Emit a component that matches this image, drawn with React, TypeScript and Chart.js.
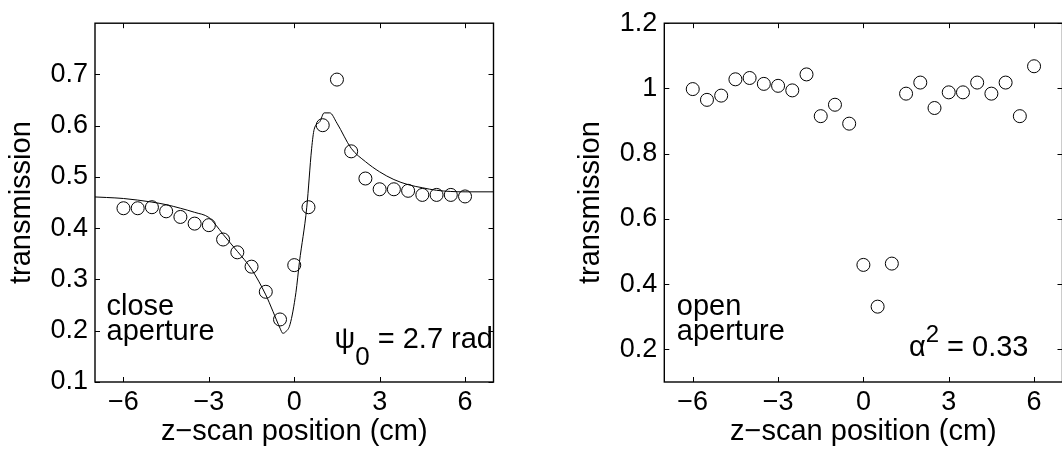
import React, { useEffect, useRef } from 'react';
import { Chart, registerables } from 'chart.js';

Chart.register(...registerables);

// ---------- data ----------
const zPositions = [-6, -5.5, -5, -4.5, -4, -3.5, -3, -2.5, -2, -1.5, -1, -0.5, 0, 0.5, 1, 1.5, 2, 2.5, 3, 3.5, 4, 4.5, 5, 5.5, 6];
const closeAperture = [0.439, 0.439, 0.441, 0.433, 0.422, 0.409, 0.406, 0.378, 0.353, 0.325, 0.276, 0.222, 0.328, 0.441, 0.601, 0.690, 0.550, 0.497, 0.476, 0.476, 0.473, 0.465, 0.465, 0.465, 0.462];
const fitZ = [-7, -6.6, -6, -5, -4.5, -4, -3.5, -3, -2.75, -2.5, -2, -1.5, -1, -0.75, -0.5, -0.4, -0.3, -0.15, 0.06, 0.18, 0.44, 0.61, 0.7, 0.9, 1.05, 1.25, 1.5, 2, 2.5, 3, 3.5, 4, 4.5, 5, 6, 7];
const fitTransmission = [0.461, 0.460, 0.458, 0.451, 0.446, 0.439, 0.431, 0.421, 0.406, 0.388, 0.355, 0.320, 0.270, 0.238, 0.205, 0.195, 0.198, 0.212, 0.275, 0.333, 0.441, 0.555, 0.593, 0.608, 0.625, 0.625, 0.605, 0.556, 0.530, 0.510, 0.495, 0.485, 0.479, 0.474, 0.471, 0.471];
const openAperture = [0.998, 0.965, 0.978, 1.028, 1.032, 1.014, 1.008, 0.994, 1.043, 0.915, 0.950, 0.892, 0.459, 0.331, 0.463, 0.984, 1.018, 0.940, 0.988, 0.988, 1.018, 0.984, 1.018, 0.915, 1.068];

const xTickValues = [-6, -3, 0, 3, 6];
const xTickLabels = ['\u22126', '\u22123', '0', '3', '6'];
const closeYTicks = [0.1, 0.2, 0.3, 0.4, 0.5, 0.6, 0.7];
const closeYLabels = ['0.1', '0.2', '0.3', '0.4', '0.5', '0.6', '0.7'];
const openYTicks = [0.2, 0.4, 0.6, 0.8, 1, 1.2];
const openYLabels = ['0.2', '0.4', '0.6', '0.8', '1', '1.2'];

const xTitle = 'z\u2212scan position (cm)';
const yTitle = 'transmission';

const FONT = '"Liberation Sans", Arial, Helvetica, sans-serif';
const TICK_SIZE = 27;
const TEXT_SIZE = 29;

// ---------- helpers ----------
function framePlugin(xTicks: number[], yTicks: number[], annotate: (ctx: CanvasRenderingContext2D, area: any) => void) {
  return {
    id: 'matlabFrame',
    afterDraw(chart: any) {
      const { ctx, chartArea } = chart;
      const { left, right, top, bottom } = chartArea;
      const xs = chart.scales.x;
      const ys = chart.scales.y;
      ctx.save();
      ctx.strokeStyle = '#000';
      ctx.lineWidth = 1.4;
      ctx.strokeRect(left, top, right - left, bottom - top);
      ctx.lineWidth = 1;
      const tl = 5;
      ctx.beginPath();
      xTicks.forEach((v) => {
        const px = Math.round(xs.getPixelForValue(v)) + 0.5;
        ctx.moveTo(px, bottom);
        ctx.lineTo(px, bottom - tl);
        ctx.moveTo(px, top);
        ctx.lineTo(px, top + tl);
      });
      yTicks.forEach((v) => {
        const py = Math.round(ys.getPixelForValue(v)) + 0.5;
        ctx.moveTo(left, py);
        ctx.lineTo(left + tl, py);
        ctx.moveTo(right, py);
        ctx.lineTo(right - tl, py);
      });
      ctx.stroke();
      ctx.fillStyle = '#000';
      annotate(ctx, chartArea);
      ctx.restore();
    },
  };
}

function makeScales(yMin: number, yMax: number, yTicks: number[], yLabels: string[]) {
  return {
    x: {
      type: 'linear',
      min: -7,
      max: 7,
      afterBuildTicks: (s: any) => {
        s.ticks = xTickValues.map((v) => ({ value: v }));
      },
      afterFit: (s: any) => {
        s.height = 75;
      },
      grid: { display: false, drawTicks: false },
      border: { display: false },
      ticks: {
        autoSkip: false,
        maxRotation: 0,
        padding: 4,
        color: '#000',
        font: { family: FONT, size: TICK_SIZE },
        callback: (_v: any, i: number) => xTickLabels[i],
      },
      title: {
        display: true,
        text: xTitle,
        color: '#000',
        font: { family: FONT, size: TEXT_SIZE, lineHeight: 1 },
        padding: { top: 0, bottom: 10.5 },
      },
    },
    y: {
      type: 'linear',
      min: yMin,
      max: yMax,
      afterBuildTicks: (s: any) => {
        s.ticks = yTicks.map((v) => ({ value: v }));
      },
      afterFit: (s: any) => {
        s.width = 95;
      },
      grid: { display: false, drawTicks: false },
      border: { display: false },
      ticks: {
        autoSkip: false,
        padding: 7,
        color: '#000',
        font: { family: FONT, size: TICK_SIZE },
        callback: (_v: any, i: number) => yLabels[i],
      },
      title: {
        display: true,
        text: yTitle,
        color: '#000',
        font: { family: FONT, size: TEXT_SIZE, lineHeight: 1 },
        padding: { top: 7, bottom: 0 },
      },
    },
  };
}

const circleStyle = {
  showLine: false,
  pointStyle: 'circle',
  pointRadius: 6.5,
  pointHoverRadius: 6.5,
  pointBorderWidth: 1,
  pointBorderColor: '#000',
  pointBackgroundColor: 'rgba(0,0,0,0)',
};

function closeConfig(): any {
  return {
    type: 'scatter',
    data: {
      datasets: [
        {
          label: 'fit',
          data: fitZ.map((z, i) => ({ x: z, y: fitTransmission[i] })),
          showLine: true,
          borderColor: '#000',
          borderWidth: 1,
          pointRadius: 0,
          cubicInterpolationMode: 'monotone',
        },
        {
          label: 'close aperture',
          data: zPositions.map((z, i) => ({ x: z, y: closeAperture[i] })),
          ...circleStyle,
        },
      ],
    },
    options: {
      responsive: false,
      animation: false,
      devicePixelRatio: 1,
      layout: { padding: { top: 15, right: 37.5, left: 0, bottom: 0 } },
      plugins: { legend: { display: false }, tooltip: { enabled: false } },
      scales: makeScales(0.1, 0.8, closeYTicks, closeYLabels),
    },
    plugins: [
      framePlugin(xTickValues, closeYTicks, (ctx, area) => {
        ctx.font = `${TEXT_SIZE}px ${FONT}`;
        ctx.textBaseline = 'alphabetic';
        ctx.textAlign = 'left';
        ctx.fillText('close', area.left + 11.5, 315);
        ctx.fillText('aperture', area.left + 11.5, 340);
        // psi_0 = 2.7 rad (right aligned)
        const xEnd = area.right - 0.5;
        ctx.textAlign = 'right';
        const main = ' = 2.7 rad';
        ctx.fillText(main, xEnd, 348);
        const wMain = ctx.measureText(main).width;
        ctx.font = `26px ${FONT}`;
        ctx.fillText('0', xEnd - wMain, 365);
        const wSub = ctx.measureText('0').width;
        ctx.font = `${TEXT_SIZE}px ${FONT}`;
        ctx.fillText('\u03C8', xEnd - wMain - wSub, 348);
      }),
    ],
  };
}

function openConfig(): any {
  return {
    type: 'scatter',
    data: {
      datasets: [
        {
          label: 'open aperture',
          data: zPositions.map((z, i) => ({ x: z, y: openAperture[i] })),
          ...circleStyle,
        },
      ],
    },
    options: {
      responsive: false,
      animation: false,
      devicePixelRatio: 1,
      layout: { padding: { top: 15, right: 9.5, left: 38.3, bottom: 0 } },
      plugins: { legend: { display: false }, tooltip: { enabled: false } },
      scales: makeScales(0.1, 1.2, openYTicks, openYLabels),
    },
    plugins: [
      framePlugin(xTickValues, openYTicks, (ctx, area) => {
        ctx.font = `${TEXT_SIZE}px ${FONT}`;
        ctx.textBaseline = 'alphabetic';
        ctx.textAlign = 'left';
        ctx.fillText('open', area.left + 12.5, 315);
        ctx.fillText('aperture', area.left + 12.5, 340);
        // alpha^2 = 0.33
        const xEnd = 497.5;
        ctx.textAlign = 'right';
        const main = ' = 0.33';
        ctx.fillText(main, xEnd, 356);
        const wMain = ctx.measureText(main).width;
        ctx.font = `24px ${FONT}`;
        ctx.fillText('2', xEnd - wMain, 342);
        const wSup = ctx.measureText('2').width;
        ctx.font = `${TEXT_SIZE}px ${FONT}`;
        ctx.fillText('\u03B1', xEnd - wMain - wSup, 356);
      }),
    ],
  };
}

function Panel({ makeConfig, left, width }: { makeConfig: () => any; left: number; width: number }) {
  const ref = useRef<HTMLCanvasElement>(null);
  useEffect(() => {
    const chart = new Chart(ref.current as HTMLCanvasElement, makeConfig());
    return () => chart.destroy();
  }, []);
  return (
    <canvas
      ref={ref}
      width={width}
      height={457}
      style={{ position: 'absolute', left, top: 0, width, height: 457, display: 'block' }}
    />
  );
}

export default function App() {
  return (
    <div
      style={{
        position: 'absolute',
        left: 0,
        top: 0,
        width: 1062,
        height: 457,
        overflow: 'hidden',
        background: '#fff',
      }}
    >
      <Panel makeConfig={closeConfig} left={0} width={531} />
      <Panel makeConfig={openConfig} left={531} width={541} />
    </div>
  );
}
